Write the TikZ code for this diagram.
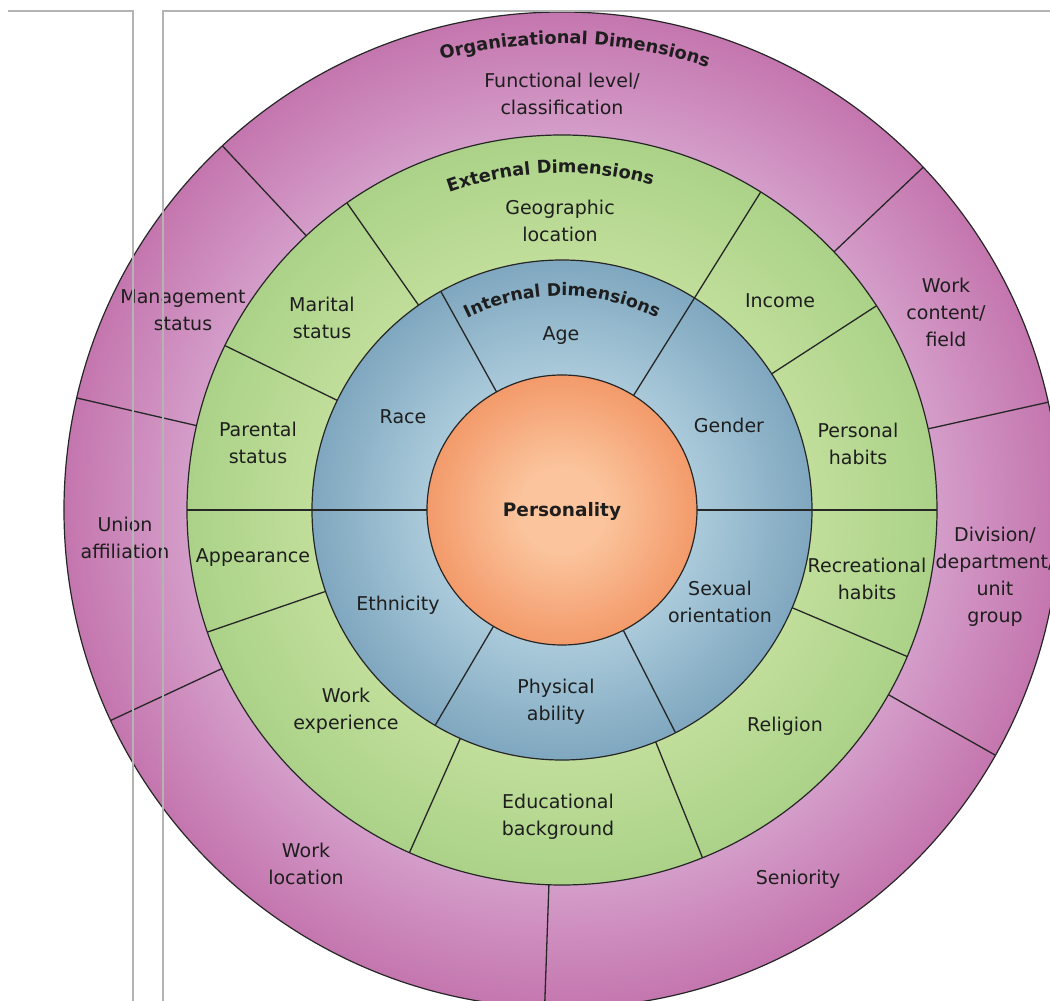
\documentclass[tikz,border=0pt]{standalone}
\usepackage{fontspec}
\setmainfont{DejaVu Sans}
\usetikzlibrary{decorations.text}
\definecolor{magout}{HTML}{C476AE}
\definecolor{magin}{HTML}{D49DC9}
\definecolor{grnout}{HTML}{ABD288}
\definecolor{grnin}{HTML}{C0DE9A}
\definecolor{bluout}{HTML}{7FA7BF}
\definecolor{bluin}{HTML}{AACADA}
\definecolor{orgout}{HTML}{F39A6A}
\definecolor{orgin}{HTML}{FBC49C}
\definecolor{divline}{HTML}{262626}
\definecolor{framegray}{HTML}{B4B4B4}
\definecolor{txt}{HTML}{1E1E1E}
\pgfdeclareradialshading{magshade}{\pgfpointorigin}{color(0bp)=(magin); color(18.8bp)=(magin); color(25bp)=(magout); color(50bp)=(magout)}
\pgfdeclareradialshading{grnshade}{\pgfpointorigin}{color(0bp)=(grnin); color(16.7bp)=(grnin); color(25bp)=(grnout); color(50bp)=(grnout)}
\pgfdeclareradialshading{blushade}{\pgfpointorigin}{color(0bp)=(bluin); color(13.5bp)=(bluin); color(25bp)=(bluout); color(50bp)=(bluout)}
\pgfdeclareradialshading{orgshade}{\pgfpointorigin}{color(0bp)=(orgin); color(8bp)=(orgin); color(25bp)=(orgout); color(50bp)=(orgout)}
\tikzset{
  lbl/.style={font=\fontsize{19}{27}\selectfont, text=txt, align=center, inner sep=0pt},
  boldlbl/.style={font=\fontsize{18.5}{22}\selectfont\bfseries, text=txt, align=center, inner sep=0pt},
  divider/.style={draw=divline, line width=1.3pt},
  ringedge/.style={draw=divline, line width=1.2pt},
  framestyle/.style={draw=framegray, line width=1.8pt},
}
\begin{document}
\begin{tikzpicture}[x=1pt,y=1pt]
\useasboundingbox (-562,-491) rectangle (488,510);
\clip (-562,-491) rectangle (488,510);
% rings
\shade[shading=magshade] (0,0) circle[radius=498];
\shade[shading=grnshade] (0,0) circle[radius=375];
\shade[shading=blushade] (0,0) circle[radius=250];
\shade[shading=orgshade] (0,0) circle[radius=135];
% dividers
\foreach \a in {180,119,58,0,-63,-120.5} \draw[divider] (\a:135) -- (\a:250);
\foreach \a in {180,154,125,58,33,0,-23,-68,-114,-161} \draw[divider] (\a:250) -- (\a:375);
\foreach \a in {167,133,43.5,12.5,-29.5,-92,-155} \draw[divider] (\a:375) -- (\a:498);
% ring outlines
\foreach \r in {498,375,250,135} \draw[ringedge] (0,0) circle[radius=\r];
% curved titles
\path[decorate, decoration={text along path, text align=center, text color=txt,
  text={|\fontsize{17.8}{20}\selectfont\bfseries|Organizational Dimensions}}]
  (148.4:466) arc[start angle=148.4, end angle=28.4, radius=466];
\path[decorate, decoration={text along path, text align=center, text color=txt,
  text={|\fontsize{17.8}{20}\selectfont\bfseries|External Dimensions}}]
  (152:337) arc[start angle=152, end angle=32, radius=337];
\path[decorate, decoration={text along path, text align=center, text color=txt,
  text={|\fontsize{17.3}{20}\selectfont\bfseries|Internal Dimensions}}]
  (150:214) arc[start angle=150, end angle=30, radius=214];
% labels
\node[lbl] (func) at (0,416) {Functional level/\\classification};
\node[lbl] (geo) at (-2,289) {Geographic\\location};
\node[lbl] (marital) at (-240,192) {Marital\\status};
\node[lbl] (income) at (218,209) {Income};
\node[lbl] (mgmt) at (-379,200) {Management\\status};
\node[lbl] (workcontent) at (384,198) {Work\\content/\\field};
\node[lbl] (parental) at (-304,67) {Parental\\status};
\node[lbl] (race) at (-159,93) {Race};
\node[lbl] (age) at (-1,174) {Age};
\node[lbl] (gender) at (167,85) {Gender};
\node[lbl] (personal) at (296,66) {Personal\\habits};
\node[boldlbl] (personality) at (0,-1) {Personality};
\node[lbl] (union) at (-437,-28) {Union\\affiliation};
\node[lbl] (appearance) at (-309,-48) {Appearance};
\node[lbl] (ethnicity) at (-164,-95) {Ethnicity};
\node[lbl] (sexual) at (158,-92) {Sexual\\orientation};
\node[lbl] (recreational) at (305,-69) {Recreational\\habits};
\node[lbl] (division) at (433,-67) {Division/\\department/\\unit\\group};
\node[lbl] (workexp) at (-216,-201) {Work\\experience};
\node[lbl] (physical) at (-6,-192) {Physical\\ability};
\node[lbl] (religion) at (223,-216) {Religion};
\node[lbl] (educational) at (-4,-307) {Educational\\background};
\node[lbl] (workloc) at (-256,-354) {Work\\location};
\node[lbl] (seniority) at (236,-369) {Seniority};
% frame lines
\draw[framestyle] (-554,499) -- (-429,499) -- (-429,-491);
\draw[framestyle] (488,499) -- (-399,499) -- (-399,-491);
\end{tikzpicture}
\end{document}
